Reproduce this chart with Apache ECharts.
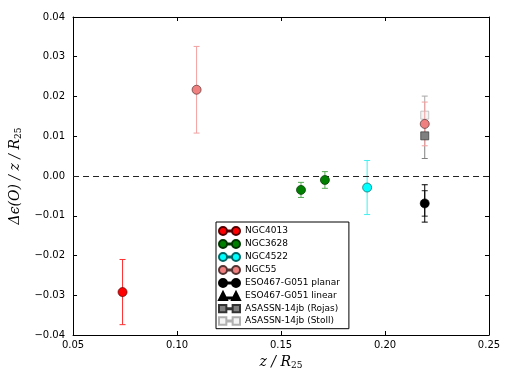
<!DOCTYPE html>
<html>
<head>
<meta charset="utf-8">
<script src="https://cdn.jsdelivr.net/npm/echarts@6/dist/echarts.min.js"></script>
<style>
  html, body { margin: 0; padding: 0; background: #fff; }
  #chart { width: 512px; height: 384px; }
</style>
</head>
<body>
<div id="chart"></div>
<script>
  // axis ticks
  var xTicks = [0.05, 0.10, 0.15, 0.20, 0.25]
  var yTicks = [-0.04, -0.03, -0.02, -0.01, 0.00, 0.01, 0.02, 0.03, 0.04]

  // each point: [z/R25, delta eps, error]
  var ngc4013 = [[0.0738, -0.0292, 0.0082]]
  var ngc3628 = [[0.1596, -0.0035, 0.0019], [0.1711, -0.0010, 0.0021]]
  var ngc4522 = [[0.1914, -0.0029, 0.0068]]
  var ngc55 = [[0.1094, 0.0217, 0.0109], [0.2191, 0.0131, 0.0055]]
  var esoPlanar = [[0.2191, -0.0069, 0.0047]]
  var esoLinear = [[0.2191, -0.0069, 0.0032]]
  var asassnRojas = [[0.2191, 0.0101, 0.0057]]
  var asassnStoll = [[0.2191, 0.0153, 0.0048]]

  // legend icons: two markers joined by a short line (21 x 8 box)
  var pairCircle = 'path://M0,4A4,4,0,1,1,8,4A4,4,0,1,1,0,4Z M13,4A4,4,0,1,1,21,4A4,4,0,1,1,13,4Z M8,3.5L13,3.5L13,4.5L8,4.5Z'
  var pairTriangle = 'path://M0,8L4,0L8,8Z M13,8L17,0L21,8Z M8,5.5L13,5.5L13,6.5L8,6.5Z'
  var pairSquare = 'path://M0.5,0.5L7.5,0.5L7.5,7.5L0.5,7.5Z M13.5,0.5L20.5,0.5L20.5,7.5L13.5,7.5Z M7.5,3.5L13.5,3.5L13.5,4.5L7.5,4.5Z'

  var groups = [
    { name: 'NGC4013', data: ngc4013, color: '#ff0000', edge: '#550000', bar: '#ff3030', symbol: 'circle', icon: pairCircle, z: 5 },
    { name: 'NGC3628', data: ngc3628, color: '#008000', edge: '#003300', bar: '#55aa55', symbol: 'circle', icon: pairCircle, z: 5 },
    { name: 'NGC4522', data: ngc4522, color: '#00ffff', edge: '#006666', bar: '#40f0f0', symbol: 'circle', icon: pairCircle, z: 5 },
    { name: 'NGC55', data: ngc55, color: '#f08080', edge: '#553333', bar: '#f2a0a0', symbol: 'circle', icon: pairCircle, z: 6 },
    { name: 'ESO467-G051 planar', data: esoPlanar, color: '#000000', edge: '#000000', bar: '#000000', symbol: 'circle', icon: pairCircle, z: 5 },
    { name: 'ESO467-G051 linear', data: esoLinear, color: '#000000', edge: '#000000', bar: '#222222', symbol: 'triangle', icon: pairTriangle, z: 4 },
    { name: 'ASASSN-14jb (Rojas)', data: asassnRojas, color: '#808080', edge: '#333333', bar: '#808080', symbol: 'rect', icon: pairSquare, z: 5 },
    { name: 'ASASSN-14jb (Stoll)', data: asassnStoll, color: '#f4f4f4', edge: '#b0b0b0', bar: '#a8a8a8', symbol: 'rect', icon: pairSquare, z: 4 }
  ]

  function fmt(v) {
    var s = Math.abs(v).toFixed(2)
    return v < -1e-9 ? '\u2212' + s : s
  }

  function errorBar(color) {
    return function (params, api) {
      var x = api.value(0), y = api.value(1), e = api.value(2)
      var top = api.coord([x, y + e])
      var bot = api.coord([x, y - e])
      var w = 3
      var st = { stroke: color, lineWidth: 1 }
      return {
        type: 'group',
        children: [
          { type: 'line', shape: { x1: top[0], y1: top[1], x2: bot[0], y2: bot[1] }, style: st },
          { type: 'line', shape: { x1: top[0] - w, y1: top[1], x2: top[0] + w, y2: top[1] }, style: st },
          { type: 'line', shape: { x1: bot[0] - w, y1: bot[1], x2: bot[0] + w, y2: bot[1] }, style: st }
        ]
      }
    }
  }

  var series = []
  groups.forEach(function (g) {
    series.push({
      type: 'custom',
      name: g.name + ' err',
      renderItem: errorBar(g.bar),
      data: g.data,
      encode: { x: 0, y: 1 },
      z: g.z - 1,
      silent: true
    })
  })
  groups.forEach(function (g) {
    series.push({
      type: 'scatter',
      name: g.name,
      data: g.data.map(function (d) { return [d[0], d[1]] }),
      symbol: g.symbol,
      symbolSize: g.symbol === 'triangle' ? 6 : (g.symbol === 'rect' ? 8 : 9),
      itemStyle: { color: g.color, borderColor: g.edge, borderWidth: 0.7, opacity: 1 },
      z: g.z
    })
  })
  // dashed zero line
  series.push({
    type: 'line',
    name: 'zero',
    data: [],
    markLine: {
      silent: true,
      symbol: 'none',
      label: { show: false },
      lineStyle: { color: '#222', width: 1, type: [6, 4] },
      data: [{ yAxis: 0 }]
    },
    z: 2
  })

  var tickStyle = { show: true, inside: true, length: 4, lineStyle: { color: '#000', width: 1 } }
  var lineStyle = { show: true, onZero: false, lineStyle: { color: '#000', width: 1 } }

  var chart = echarts.init(document.getElementById('chart'), null, { renderer: 'canvas' })
  chart.setOption({
    backgroundColor: '#fff',
    animation: false,
    grid: { left: 68, right: 23, top: 17, bottom: 49 },
    legend: {
      orient: 'vertical',
      left: 216,
      top: 222,
      padding: [4, 9, 3, 2],
      itemGap: 3,
      itemWidth: 21,
      itemHeight: 8,
      borderColor: '#000',
      borderWidth: 1,
      borderRadius: 0,
      backgroundColor: '#fff',
      textStyle: { fontFamily: 'DejaVu Sans', fontSize: 9, lineHeight: 8, color: '#000', padding: [0, 0, 0, 0] },
      data: groups.map(function (g) { return { name: g.name, icon: g.icon } })
    },
    xAxis: [{
      type: 'value',
      min: xTicks[0],
      max: xTicks[xTicks.length - 1],
      interval: 0.05,
      name: '{i|z / R}{s|25}',
      nameLocation: 'middle',
      nameGap: 13,
      nameTextStyle: {
        rich: {
          i: { fontFamily: 'DejaVu Serif', fontStyle: 'italic', fontSize: 14, color: '#000' },
          s: { fontFamily: 'DejaVu Serif', fontSize: 9, color: '#000', verticalAlign: 'bottom', padding: [8, 0, 0, 0] }
        }
      },
      axisLine: lineStyle,
      axisTick: tickStyle,
      splitLine: { show: false },
      axisLabel: { fontFamily: 'DejaVu Sans', fontSize: 10, color: '#000', margin: 5, formatter: fmt, showMinLabel: true, showMaxLabel: true }
    }, {
      type: 'value',
      position: 'top',
      min: xTicks[0],
      max: xTicks[xTicks.length - 1],
      interval: 0.05,
      axisLine: lineStyle,
      axisTick: tickStyle,
      splitLine: { show: false },
      axisLabel: { show: false }
    }],
    yAxis: [{
      type: 'value',
      min: yTicks[0],
      max: yTicks[yTicks.length - 1],
      interval: 0.01,
      name: '{i|\u0394\u03f5(O) / z / R}{s|25}',
      nameLocation: 'middle',
      nameGap: 44,
      nameTextStyle: {
        rich: {
          i: { fontFamily: 'DejaVu Serif', fontStyle: 'italic', fontSize: 14, color: '#000' },
          s: { fontFamily: 'DejaVu Serif', fontSize: 9, color: '#000', verticalAlign: 'bottom', padding: [8, 0, 0, 0] }
        }
      },
      axisLine: lineStyle,
      axisTick: tickStyle,
      splitLine: { show: false },
      axisLabel: { fontFamily: 'DejaVu Sans', fontSize: 10, color: '#000', margin: 8, formatter: fmt, showMinLabel: true, showMaxLabel: true }
    }, {
      type: 'value',
      position: 'right',
      min: yTicks[0],
      max: yTicks[yTicks.length - 1],
      interval: 0.01,
      axisLine: lineStyle,
      axisTick: tickStyle,
      splitLine: { show: false },
      axisLabel: { show: false }
    }],
    series: series
  })
</script>
</body>
</html>
